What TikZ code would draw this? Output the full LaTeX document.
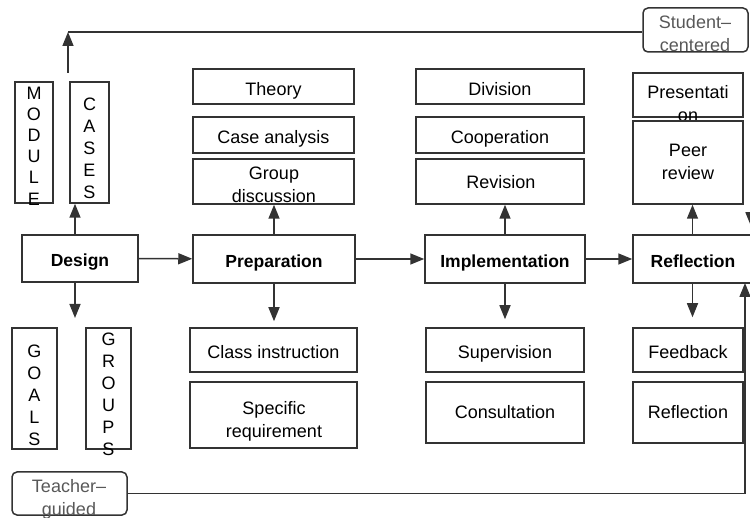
\documentclass[tikz,border=0pt]{standalone}
\usepackage{fontspec}
\setmainfont{Liberation Sans}
\usetikzlibrary{arrows.meta,fit}
\definecolor{ln}{HTML}{333333}
\definecolor{gr}{HTML}{585858}
\begin{document}
\begin{tikzpicture}[x=1pt,y=-1pt,
 box/.style={draw=ln,line width=1.5pt,rectangle,inner sep=0pt},
 rbox/.style={box,rounded corners=5pt},
 lbl/.style={font=\fontsize{18}{23}\selectfont,align=center,inner sep=0pt},
 slbl/.style={font=\fontsize{18}{23}\selectfont,inner sep=0pt,anchor=base},
 blbl/.style={font=\fontsize{17.5}{23}\selectfont\bfseries,inner sep=0pt,anchor=base},
 glbl/.style={lbl,text=gr},
 vlbl/.style={font=\fontsize{18}{22}\selectfont,align=center,inner sep=0pt},
 arr/.style={draw=ln,line width=1.5pt,-{Triangle[length=14pt,width=11pt]}},
 con/.style={draw=ln,line width=1.5pt}]
\useasboundingbox (0,0) rectangle (750,518);
\clip (0,0) rectangle (750,518);

% main row
\node[box,fit={(22,235)(138,282)}] (design) {};
\node[blbl] (designT) at (80,267) {Design};
\node[box,fit={(193,235)(355,283)}] (prep) {};
\node[blbl] (prepT) at (274,267.5) {Preparation};
\node[box,fit={(425,235)(585,283)}] (impl) {};
\node[blbl] (implT) at (505,267.5) {Implementation};
\node[box,fit={(633,235)(752,283)}] (refl) {};
\node[blbl] (reflT) at (693,267.5) {Reflection};

% design satellites
\node[box,fit={(15,82)(53,203)}] (module) {};
\node[vlbl,font=\fontsize{18}{21.2}\selectfont] (moduleT) at (34,146) {M\\O\\D\\U\\L\\E};
\node[box,fit={(70,82)(109,203)}] (cases) {};
\node[vlbl] (casesT) at (89.5,148) {C\\A\\S\\E\\S};
\node[box,fit={(12,328)(57,449)}] (goals) {};
\node[vlbl] (goalsT) at (34.5,395) {G\\O\\A\\L\\S};
\node[box,fit={(86,328)(131,449)}] (groups) {};
\node[vlbl] (groupsT) at (108.5,394) {G\\R\\O\\U\\P\\S};

% preparation satellites
\node[box,fit={(193,69)(354,104)}] (theory) {};
\node[slbl] (theoryT) at (273.5,96) {Theory};
\node[box,fit={(193,117)(354,153)}] (casea) {};
\node[slbl] (caseaT) at (273.5,143.5) {Case analysis};
\node[box,fit={(193,159)(354,204)}] (groupd) {};
\node[lbl] (groupdT) at (274,185) {Group\\discussion};
\node[box,fit={(190,328)(357,372)}] (classi) {};
\node[slbl] (classiT) at (273.5,359) {Class instruction};
\node[box,fit={(190,382)(357,448)}] (specr) {};
\node[lbl] (specrT) at (274,421) {Specific\\requirement};

% implementation satellites
\node[box,fit={(416,69)(584,104)}] (division) {};
\node[slbl] (divisionT) at (500,96) {Division};
\node[box,fit={(416,117)(584,153)}] (coop) {};
\node[slbl] (coopT) at (500,143.5) {Cooperation};
\node[box,fit={(416,159)(584,204)}] (revision) {};
\node[slbl] (revisionT) at (501,189) {Revision};
\node[box,fit={(426,328)(584,372)}] (superv) {};
\node[slbl] (supervT) at (505,359) {Supervision};
\node[box,fit={(426,382)(584,443)}] (consult) {};
\node[slbl] (consultT) at (505,419) {Consultation};

% reflection satellites
\node[box,fit={(633,73)(743,117)}] (present) {};
\node[lbl] (presentT) at (688,104) {Presentati\\on};
\node[box,fit={(633,121)(743,204)}] (peer) {};
\node[lbl] (peerT) at (688,162) {Peer\\review};
\node[box,fit={(633,328)(743,372)}] (feedb) {};
\node[slbl] (feedbT) at (688,359) {Feedback};
\node[box,fit={(633,382)(743,443)}] (reflb) {};
\node[slbl] (reflbT) at (688,419) {Reflection};

% side labels
\node[rbox,fit={(643,8)(748,52)}] (student) {};
\node[glbl] (studentT) at (695,34) {Student--\\centered};
\node[rbox,fit={(12,472)(127,515)}] (teacher) {};
\node[glbl] (teacherT) at (69,499) {Teacher--\\guided};

% connectors main row
\draw[arr] (design) -- (prep);
\draw[arr] (prep) -- (impl);
\draw[arr] (impl) -- (refl);

% design arrows
\draw[arr] ([xshift=-5pt]design.north) -- ([xshift=-5pt]design.north |- cases.south);
\coordinate (dd) at (75,318);
\draw[arr] ([xshift=-5pt]design.south) -- (dd);

% top loop
\coordinate (cs) at (68,73);
\coordinate (corner) at (68,32);
\draw[arr] (cs) -- (corner);
\draw[con] (corner) -- (corner -| student.west);

% preparation arrows
\draw[arr] (prep.north) -- (prep.north |- groupd.south);
\draw[arr,shorten >=6pt] (prep.south) -- (prep.south |- classi.north);
% implementation arrows
\draw[arr] (impl.north) -- (impl.north |- revision.south);
\draw[arr,shorten >=8pt] (impl.south) -- (impl.south |- superv.north);
% reflection arrows
\draw[arr] (refl.north) -- (refl.north |- peer.south);
\draw[arr,shorten >=10pt] (refl.south) -- (refl.south |- feedb.north);

% bottom loop
\coordinate (rb) at (745,283);
\draw[arr] (teacher.east) -| (rb);

% top-right incoming arrow (mostly off the edge)
\coordinate (tr) at (751,205);
\draw[arr,shorten >=8pt] (tr) -- (tr |- refl.north);
\end{tikzpicture}
\end{document}
